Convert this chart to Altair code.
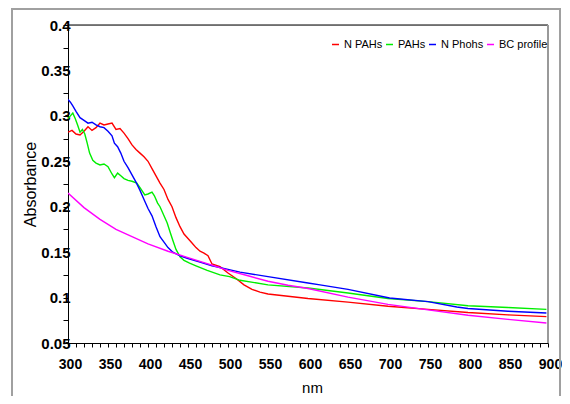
import altair as alt
import pandas as pd

# ---- data ----
red_nm = [300, 305, 310, 315, 320, 325, 330, 335, 340, 345, 350, 355, 360, 365, 370, 375, 380, 385,
          390, 395, 400, 405, 410, 415, 420, 425, 430, 435, 440, 445, 450, 455, 460, 465, 470, 475,
          480, 490, 500, 510, 520, 530, 540, 550, 575, 600, 650, 700, 750, 800, 850, 898]
red_val = [0.282, 0.284, 0.280, 0.279, 0.283, 0.288, 0.284, 0.287, 0.292, 0.290, 0.291, 0.292, 0.285,
           0.286, 0.281, 0.275, 0.268, 0.263, 0.259, 0.255, 0.250, 0.242, 0.234, 0.226, 0.219, 0.208,
           0.200, 0.188, 0.178, 0.170, 0.165, 0.160, 0.155, 0.151, 0.149, 0.146, 0.137, 0.134, 0.127,
           0.121, 0.114, 0.109, 0.106, 0.104, 0.1015, 0.099, 0.095, 0.0905, 0.087, 0.0835, 0.081, 0.079]

green_nm = [300, 303, 306, 309, 312, 315, 318, 321, 324, 327, 331, 335, 340, 345, 350, 355, 358, 362,
            366, 370, 375, 380, 386, 390, 396, 400, 405, 408, 412, 415, 420, 424, 428, 431, 435, 440,
            445, 452, 460, 474, 490, 502, 515, 550, 600, 650, 700, 750, 800, 850, 898]
green_val = [0.297, 0.300, 0.303, 0.297, 0.290, 0.282, 0.285, 0.280, 0.270, 0.259, 0.251, 0.248, 0.246,
             0.247, 0.244, 0.236, 0.232, 0.237, 0.234, 0.231, 0.229, 0.228, 0.226, 0.221, 0.213, 0.214,
             0.216, 0.212, 0.204, 0.200, 0.190, 0.182, 0.171, 0.163, 0.153, 0.145, 0.141, 0.138, 0.135,
             0.130, 0.125, 0.123, 0.119, 0.114, 0.1105, 0.105, 0.099, 0.0955, 0.091, 0.089, 0.087]

blue_nm = [300, 303, 306, 310, 315, 320, 325, 330, 335, 340, 345, 350, 355, 358, 362, 366, 370, 375,
           380, 385, 390, 395, 400, 405, 410, 415, 420, 425, 431, 440, 450, 465, 480, 500, 515, 550,
           600, 615, 650, 702, 750, 786, 800, 850, 898]
blue_val = [0.318, 0.315, 0.311, 0.305, 0.298, 0.295, 0.292, 0.293, 0.290, 0.288, 0.287, 0.283, 0.278,
            0.270, 0.266, 0.259, 0.250, 0.243, 0.235, 0.227, 0.218, 0.208, 0.198, 0.190, 0.178, 0.167,
            0.161, 0.155, 0.150, 0.146, 0.143, 0.139, 0.135, 0.131, 0.128, 0.123, 0.116, 0.114, 0.109,
            0.0995, 0.0955, 0.0896, 0.088, 0.085, 0.083]

mag_nm = [300, 320, 340, 360, 380, 400, 425, 450, 475, 500, 525, 550, 575, 600, 650, 700, 750, 800,
          850, 898]
mag_val = [0.215, 0.199, 0.186, 0.175, 0.167, 0.159, 0.151, 0.144, 0.137, 0.130, 0.124, 0.118, 0.1135,
           0.110, 0.1005, 0.0925, 0.0865, 0.0805, 0.076, 0.072]

series_names = ["N PAHs", "PAHs", "N Phohs", "BC profile"]
series_colors = ["#ff0000", "#00ee00", "#0000ff", "#ff00ff"]

frames = []
for name, xs, ys in zip(series_names,
                        [red_nm, green_nm, blue_nm, mag_nm],
                        [red_val, green_val, blue_val, mag_val]):
    frames.append(pd.DataFrame({"nm": xs, "abs": ys, "series": name}))
df = pd.concat(frames, ignore_index=True)

x_ticks = list(range(300, 901, 10))
y_ticks = [round(0.05 + 0.025 * i, 3) for i in range(15)]

W, H = 480, 318
FONT = "Liberation Sans"

lines = alt.Chart(df).mark_line(strokeWidth=1.4, clip=True).encode(
    x=alt.X("nm:Q", scale=alt.Scale(domain=[300, 900], nice=False, zero=False),
            axis=alt.Axis(title="nm", values=x_ticks,
                          labelExpr="datum.value % 50 == 0 ? datum.label : ''",
                          format="d", tickSize=4, labelPadding=10, labelOffset=2,
                          labelFlush=False,
                          labelFontWeight="bold", labelFontSize=14, labelOverlap=False,
                          titleFontWeight="normal", titleFontSize=15, titlePadding=9,
                          titleX=244, domainColor="black", tickColor="black", grid=False)),
    y=alt.Y("abs:Q", scale=alt.Scale(domain=[0.05, 0.4], nice=False, zero=False),
            axis=alt.Axis(title="Absorbance", values=y_ticks,
                          labelExpr="round(datum.value*1000) % 50 == 0 ? format(datum.value, '.2~f') : ''",
                          tickSize=5, labelPadding=-7, labelFlush=False,
                          labelFontWeight="bold", labelFontSize=15, labelOverlap=False,
                          titleFontWeight="normal", titleFontSize=16, titlePadding=2,
                          domainColor="black", tickColor="black", grid=False)),
    color=alt.Color("series:N",
                    scale=alt.Scale(domain=series_names, range=series_colors),
                    sort=series_names,
                    legend=alt.Legend(title=None, orient="none", direction="horizontal",
                                      legendX=262, legendY=14, symbolType="stroke",
                                      symbolSize=49, symbolStrokeWidth=1.5, labelOffset=3,
                                      columnPadding=0, gridAlign="none",
                                      labelFontSize=11, labelFont=FONT,
                                      padding=0, labelLimit=200)),
)

one = pd.DataFrame({"a": [0]})
top_rule = alt.Chart(one).mark_rule(color="black", strokeWidth=1).encode(
    x=alt.value(0), x2=alt.value(W), y=alt.value(0))
right_rule = alt.Chart(one).mark_rule(color="#999999", strokeWidth=2).encode(
    x=alt.value(W), y=alt.value(0), y2=alt.value(H))
frame = alt.Chart(one).mark_rect(fill=None, stroke="#a0a0a0", strokeWidth=2).encode(
    x=alt.value(-56), x2=alt.value(492), y=alt.value(-16), y2=alt.value(390))

chart = alt.layer(frame, lines, top_rule, right_rule).properties(
    width=W, height=H,
    autosize=alt.AutoSizeParams(type="none"),
    padding={"left": 60, "top": 17, "right": 14, "bottom": 53},
).configure_view(stroke=None).configure(font=FONT, background="white")

chart.save("out.html", embed_options={"renderer": "svg", "actions": False})
